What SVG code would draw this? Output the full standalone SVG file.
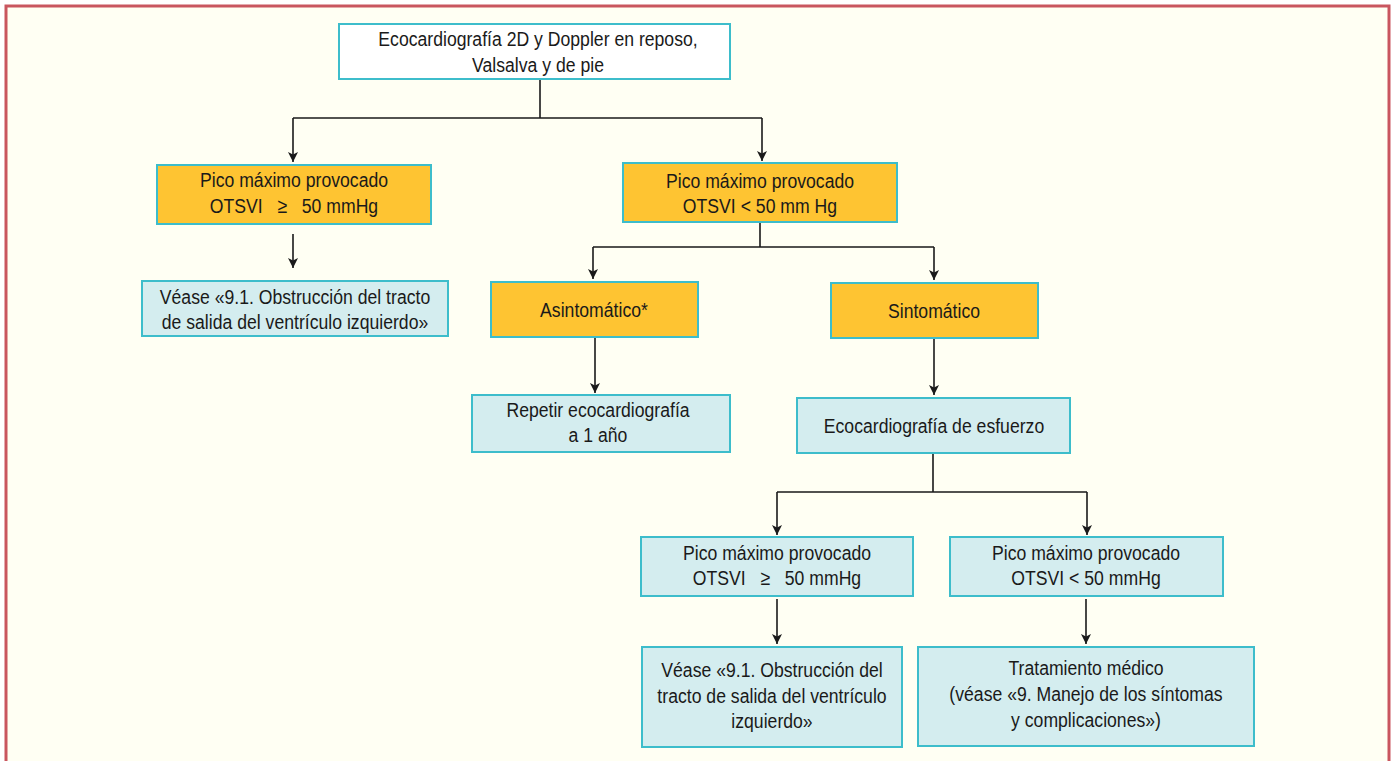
<svg xmlns="http://www.w3.org/2000/svg" width="1394" height="761" viewBox="0 0 1394 761">
<style>
.t{font-family:"Liberation Sans",Arial,sans-serif;font-size:21px;fill:#1a1a1a;text-anchor:middle}
.o{fill:#FEC432;stroke:#3DBDCB;stroke-width:2}
.b{fill:#D4EDEF;stroke:#3DBDCB;stroke-width:2}
.w{fill:#FFFFFF;stroke:#3DBDCB;stroke-width:2}
.c{fill:none;stroke:#1a1a1a;stroke-width:1.6}
</style>
<defs>
<marker id="ar" viewBox="0 0 10 10" refX="10" refY="5" markerWidth="10" markerHeight="10" markerUnits="userSpaceOnUse" orient="auto">
<path d="M0,0 L10,5 L0,10 L2.5,5 z" fill="#1a1a1a"/>
</marker>
</defs>
<rect x="0" y="0" width="1394" height="761" fill="#FFFFFF"/>
<rect x="6" y="6" width="1383" height="770" fill="#FFFFF3" stroke="#C9565F" stroke-width="3"/>
<g id="connectors">
<path class="c" d="M540,79 V118"/>
<path class="c" d="M293,118 H762"/>
<path class="c" d="M293,118 V162" marker-end="url(#ar)"/>
<path class="c" d="M762,118 V161" marker-end="url(#ar)"/>
<path class="c" d="M293,234 V268" marker-end="url(#ar)"/>
<path class="c" d="M760,222 V247 M593,247 H934"/>
<path class="c" d="M593,247 V279" marker-end="url(#ar)"/>
<path class="c" d="M934,247 V280" marker-end="url(#ar)"/>
<path class="c" d="M595,337 V393" marker-end="url(#ar)"/>
<path class="c" d="M934,338 V395" marker-end="url(#ar)"/>
<path class="c" d="M933,453 V492 M777,492 H1087"/>
<path class="c" d="M777,492 V535" marker-end="url(#ar)"/>
<path class="c" d="M1087,492 V535" marker-end="url(#ar)"/>
<path class="c" d="M777,599 V644" marker-end="url(#ar)"/>
<path class="c" d="M1086,599 V644" marker-end="url(#ar)"/>
</g>
<g id="n1"><rect class="w" x="339" y="24" width="391" height="55"/>
<text class="t" transform="translate(538,46) scale(0.84,1)">Ecocardiografía 2D y Doppler en reposo,</text>
<text class="t" transform="translate(538,72) scale(0.84,1)">Valsalva y de pie</text></g>
<g id="n2"><rect class="o" x="157" y="165" width="274" height="59"/>
<text class="t" transform="translate(294,187) scale(0.84,1)">Pico máximo provocado</text>
<text class="t" transform="translate(294,213) scale(0.84,1)" xml:space="preserve">OTSVI   ≥   50 mmHg</text></g>
<g id="n3"><rect class="b" x="142" y="281" width="306" height="55"/>
<text class="t" transform="translate(295,304) scale(0.84,1)">Véase «9.1. Obstrucción del tracto</text>
<text class="t" transform="translate(295,329) scale(0.84,1)">de salida del ventrículo izquierdo»</text></g>
<g id="n4"><rect class="o" x="623" y="163" width="274" height="59"/>
<text class="t" transform="translate(760,188) scale(0.84,1)">Pico máximo provocado</text>
<text class="t" transform="translate(760,213) scale(0.84,1)">OTSVI &lt; 50 mm Hg</text></g>
<g id="n5"><rect class="o" x="491" y="282" width="207" height="55"/>
<text class="t" transform="translate(594,317) scale(0.84,1)">Asintomático*</text></g>
<g id="n6"><rect class="o" x="831" y="283" width="207" height="55"/>
<text class="t" transform="translate(934,318) scale(0.84,1)">Sintomático</text></g>
<g id="n7"><rect class="b" x="472" y="395" width="258" height="57"/>
<text class="t" transform="translate(598,417) scale(0.84,1)">Repetir ecocardiografía</text>
<text class="t" transform="translate(598,442) scale(0.84,1)">a 1 año</text></g>
<g id="n8"><rect class="b" x="797" y="398" width="273" height="55"/>
<text class="t" transform="translate(934,433) scale(0.84,1)">Ecocardiografía de esfuerzo</text></g>
<g id="n9"><rect class="b" x="641" y="537" width="272" height="59"/>
<text class="t" transform="translate(777,560) scale(0.84,1)">Pico máximo provocado</text>
<text class="t" transform="translate(777,585) scale(0.84,1)" xml:space="preserve">OTSVI   ≥   50 mmHg</text></g>
<g id="n10"><rect class="b" x="950" y="537" width="273" height="59"/>
<text class="t" transform="translate(1086,560) scale(0.84,1)">Pico máximo provocado</text>
<text class="t" transform="translate(1086,585) scale(0.84,1)">OTSVI &lt; 50 mmHg</text></g>
<g id="n11"><rect class="b" x="642" y="647" width="260" height="100"/>
<text class="t" transform="translate(772,677) scale(0.84,1)">Véase «9.1. Obstrucción del</text>
<text class="t" transform="translate(772,703) scale(0.84,1)">tracto de salida del ventrículo</text>
<text class="t" transform="translate(772,728) scale(0.84,1)">izquierdo»</text></g>
<g id="n12"><rect class="b" x="918" y="647" width="336" height="99"/>
<text class="t" transform="translate(1086,675) scale(0.84,1)">Tratamiento médico</text>
<text class="t" transform="translate(1086,701) scale(0.84,1)">(véase «9. Manejo de los síntomas</text>
<text class="t" transform="translate(1086,727) scale(0.84,1)">y complicaciones»)</text></g>
</svg>
